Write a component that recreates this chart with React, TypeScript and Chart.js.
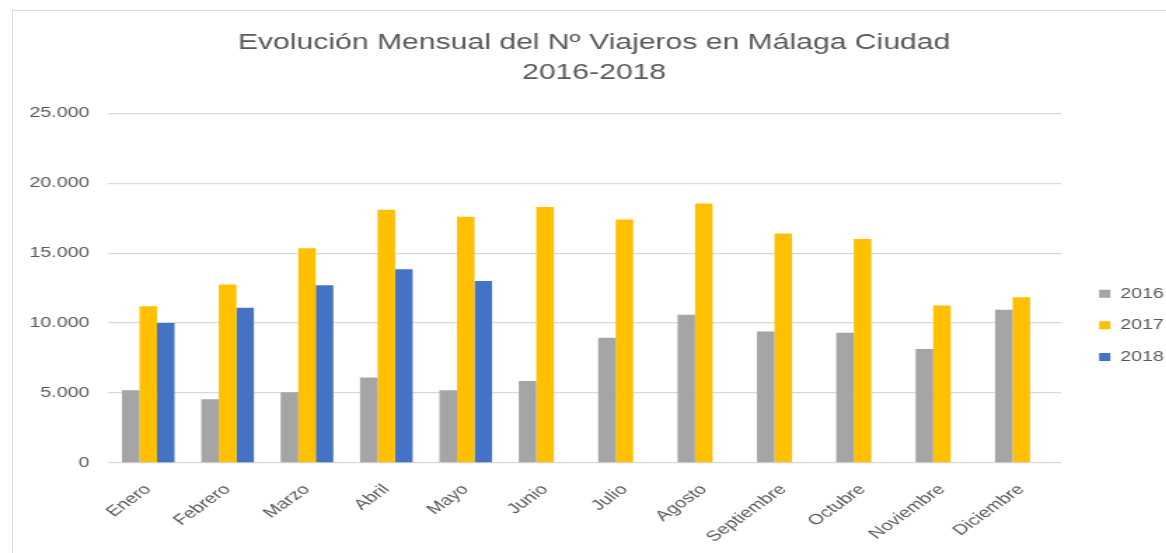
import React, { useEffect, useRef } from 'react';
import { Chart, registerables } from 'chart.js';

Chart.register(...registerables);

const months = ['Enero', 'Febrero', 'Marzo', 'Abril', 'Mayo', 'Junio', 'Julio', 'Agosto', 'Septiembre', 'Octubre', 'Noviembre', 'Diciembre'];
const viajeros2016 = [5200, 4550, 5050, 6100, 5200, 5850, 8950, 10600, 9400, 9300, 8150, 10950];
const viajeros2017 = [11200, 12750, 15350, 18100, 17600, 18300, 17400, 18550, 16400, 16000, 11250, 11850];
const viajeros2018 = [10000, 11100, 12700, 13850, 13000, null, null, null, null, null, null, null];
const seriesNames = ['2016', '2017', '2018'];
const seriesColors = ['#A5A5A5', '#FFC000', '#4472C4'];
const titleLines = ['Evolución Mensual del Nº Viajeros en Málaga Ciudad', '2016-2018'];
const yMin = 0;
const yMax = 25000;
const yStep = 5000;

const SX = 1.4;
const W = 1166;
const H = 553;
const FONT = '"Liberation Sans", Arial, sans-serif';
const TEXT = '#595959';

const fmt = (v: number) => String(v).replace(/\B(?=(\d{3})+(?!\d))/g, '.');

export default function App() {
  const ref = useRef<HTMLCanvasElement>(null);
  useEffect(() => {
    const series = [viajeros2016, viajeros2017, viajeros2018];
    const chart = new Chart(ref.current as HTMLCanvasElement, {
      type: 'bar',
      data: {
        labels: months,
        datasets: series.map((d, i) => ({
          label: seriesNames[i],
          data: d,
          backgroundColor: seriesColors[i],
          borderWidth: 0,
        })),
      },
      options: {
        animation: false,
        responsive: true,
        maintainAspectRatio: false,
        datasets: { bar: { barPercentage: 1, categoryPercentage: 0.663 } } as any,
        layout: { padding: { left: 7.4, right: -7.5, top: 0, bottom: -10.7 } },
        plugins: {
          title: {
            display: true,
            text: titleLines,
            color: TEXT,
            font: { family: FONT, size: 21.5, weight: 'normal', lineHeight: 1.4 },
            padding: { top: 28, bottom: 25 },
          },
          legend: {
            position: 'right',
            labels: {
              boxWidth: 8,
              boxHeight: 8,
              padding: 17.7,
              color: TEXT,
              font: { family: FONT, size: 14 },
            },
            title: { display: true, text: '', padding: { top: 77, bottom: 0 }, font: { size: 10, lineHeight: 1 } },
          },
          tooltip: { enabled: false },
        },
        scales: {
          x: {
            grid: { display: false, drawTicks: false },
            border: { display: false },
            ticks: {
              autoSkip: false,
              minRotation: 45,
              maxRotation: 45,
              color: TEXT,
              font: { family: FONT, size: 14.5 },
              padding: 18,
            },
          },
          y: {
            min: yMin,
            max: yMax,
            ticks: {
              stepSize: yStep,
              callback: (v: any) => fmt(Number(v)),
              color: TEXT,
              font: { family: FONT, size: 14 },
              padding: 13.6,
            },
            grid: { color: '#D9D9D9', drawTicks: false, lineWidth: 1.2 },
            border: { display: false },
          },
          yR: {
            position: 'right',
            display: true,
            grid: { display: false, drawTicks: false },
            border: { display: false },
            ticks: { display: false },
            afterFit: (s: any) => {
              s.width = 9.5;
            },
          },
        },
      } as any,
    });
    return () => chart.destroy();
  }, []);

  return (
    <div style={{ position: 'fixed', left: 0, top: 0, width: W, height: H, overflow: 'hidden', background: '#fff' }}>
      <div
        style={{
          position: 'absolute',
          left: 12,
          top: 10,
          right: -10,
          bottom: -10,
          borderTop: '1.5px solid #D9D9D9',
          borderLeft: '1.5px solid #D9D9D9',
        }}
      />
      <div
        style={{
          position: 'absolute',
          left: 0,
          top: 0,
          width: W / SX,
          height: H,
          transform: `scaleX(${SX})`,
          transformOrigin: '0 0',
        }}
      >
        <canvas ref={ref} />
      </div>
    </div>
  );
}
